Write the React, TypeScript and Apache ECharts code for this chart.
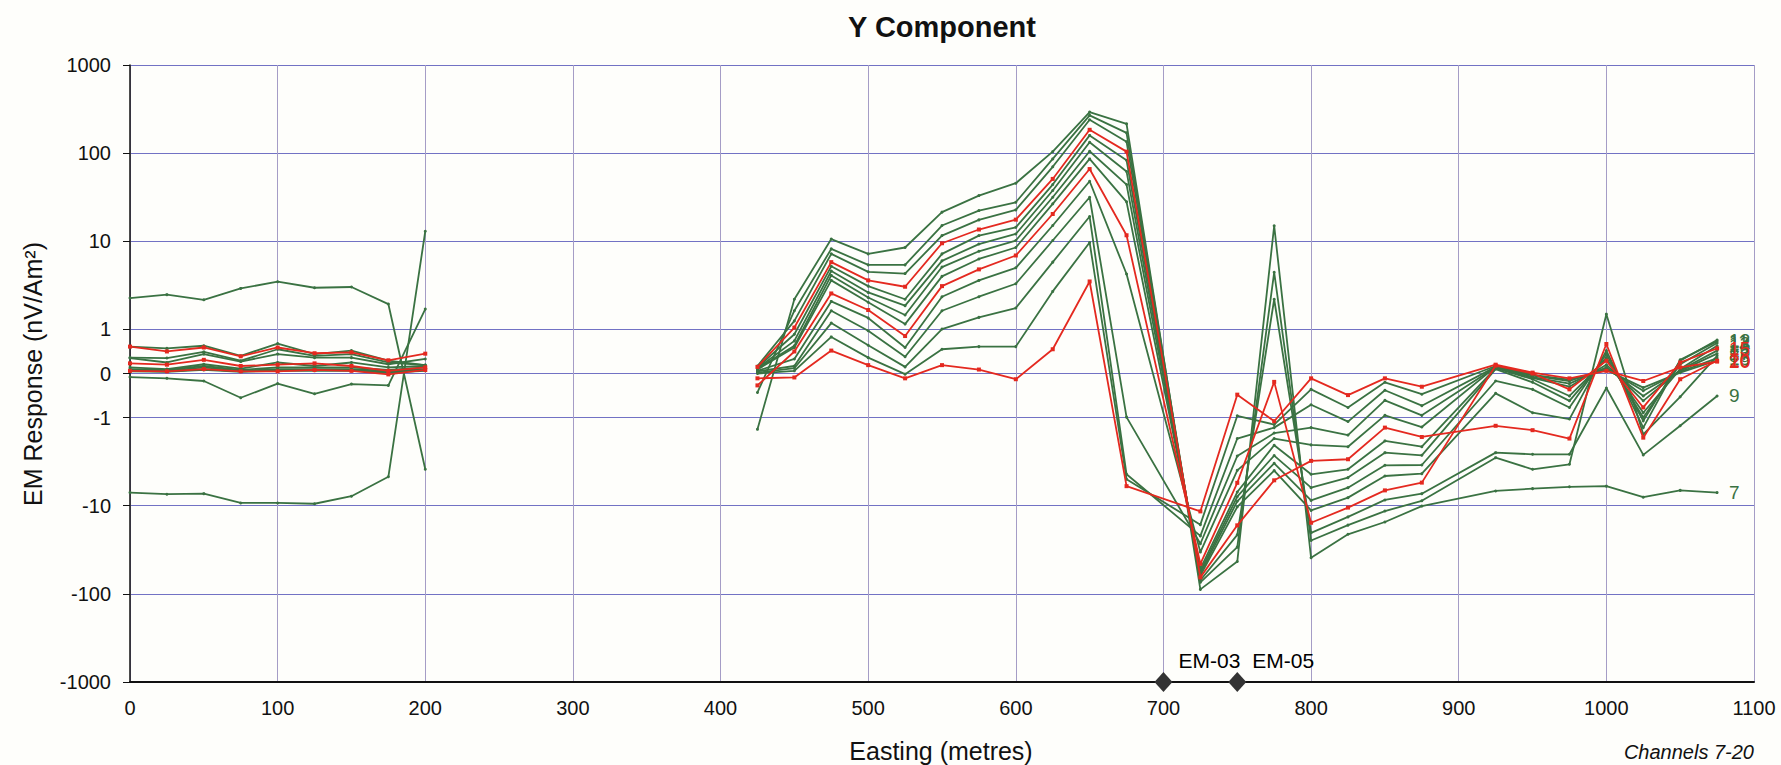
import React, { useEffect, useRef } from "react";
import * as echarts from "echarts";

// Station eastings (metres); the survey has no readings between 200 and 425 m,
// at 700 m or at 900 m.
const eastings = [
  0, 25, 50, 75, 100, 125, 150, 175, 200,
  425, 450, 475, 500, 525, 550, 575, 600, 625, 650, 675,
  725, 750, 775, 800, 825, 850, 875, 925, 950, 975, 1000, 1025, 1050, 1075,
];
const lineBreakAfter = 200;

// EM response per channel (nV/Am²)
const ch7 = [-7.1, -7.4, -7.3, -9.3, -9.3, -9.5, -7.8, -4.7, 13.0,
  -1.36, 2.2, 10.6, 7.2, 8.5, 21.4, 33, 45.6, 104, 292, 215,
  -89, -43, 15, -39, -21.1, -15.3, -10.1, -6.8, -6.4, -6.1, -6.0, -8.0, -6.7, -7.1];
const ch8 = [2.27, 2.48, 2.17, 2.92, 3.48, 2.97, 3.03, 1.94, -3.86,
  -0.43, 1.63, 8.2, 5.4, 5.4, 15.1, 22.3, 27.7, 86, 268, 170,
  -74, -29.5, 4.45, -24.8, -16.6, -11.5, -8.8, -2.85, -3.86, -3.39, 1.49, -1.55, -0.53, 0.4];
const ch9 = [-0.08, -0.11, -0.17, -0.55, -0.23, -0.46, -0.24, -0.27, 1.7,
  0.17, 1.25, 7.2, 4.5, 4.3, 11.6, 17.5, 22.7, 70, 239, 135,
  -70, -21.4, 2.2, -20.3, -13.4, -8.6, -7.3, -2.5, -2.61, -2.61, -0.33, -2.65, -1.24, -0.51];
const ch10 = [0.61, 0.5, 0.59, 0.39, 0.59, 0.46, 0.48, 0.3, 0.45,
  0.15, 1.05, 5.8, 3.6, 3.05, 9.5, 13.6, 17.6, 51, 184, 104,
  -65, -16.7, -5.15, -3.1, -2.97, -1.3, -1.66, -1.24, -1.39, -1.73, 0.67, -1.69, -0.13, 0.29];
const ch11 = [0.61, 0.57, 0.63, 0.4, 0.68, 0.44, 0.52, 0.29, 0.19,
  0.14, 0.89, 5.2, 3.1, 2.2, 7.2, 11.6, 14.4, 44, 159, 83,
  -62, -10.3, -4.0, -11.3, -8.1, -4.6, -4.33, -0.45, -0.89, -1.04, 0.52, -1.3, 0.31, 0.73];
const ch12 = [0.36, 0.35, 0.49, 0.29, 0.55, 0.4, 0.44, 0.25, 0.19,
  0.12, 0.74, 4.6, 2.63, 1.86, 6.0, 9.3, 12.1, 37.7, 133, 62,
  -59, -8.9, -3.3, -8.7, -6.24, -3.48, -3.45, -0.17, -0.36, -0.77, 0.44, -1.09, 0.29, 0.76];
const ch13 = [0.35, 0.25, 0.44, 0.27, 0.44, 0.36, 0.36, 0.21, 0.33,
  0.11, 0.63, 4.1, 2.3, 1.46, 5.1, 7.7, 10.2, 31.6, 105, 44,
  -56, -7.9, -2.7, -6.24, -4.8, -2.5, -2.68, 0.1, -0.2, -0.62, 0.36, -1.0, 0.21, 0.69];
const ch14 = [0.14, 0.1, 0.21, 0.11, 0.25, 0.17, 0.25, 0.14, 0.17,
  0.09, 0.59, 3.6, 2.03, 1.15, 4.0, 6.3, 8.5, 26.6, 86, 28,
  -52, -7.0, -2.06, -4.4, -3.86, -1.84, -2.14, 0.12, -0.13, -0.51, 0.32, -0.89, 0.1, 0.63];
const ch15 = [0.23, 0.2, 0.31, 0.17, 0.2, 0.23, 0.17, 0.06, 0.14,
  -0.27, 0.5, 2.56, 1.66, 0.85, 3.1, 4.8, 6.9, 20.4, 66, 11.7,
  -45.6, -5.5, -0.19, -15.6, -10.5, -6.7, -5.47, 0.18, 0.0, -0.36, 0.29, -0.77, 0.25, 0.57];
const ch16 = [0.1, 0.08, 0.17, 0.08, 0.14, 0.14, 0.14, 0.08, 0.14,
  0.06, 0.33, 2.08, 1.35, 0.59, 2.35, 3.6, 5.0, 15.1, 48, 4.25,
  -33.6, -3.97, -1.73, -2.04, -2.14, -0.95, -1.28, 0.15, -0.1, -0.3, 0.2, -0.62, 0.08, 0.52];
const ch17 = [0.08, 0.06, 0.14, 0.06, 0.1, 0.1, 0.1, 0.06, 0.1,
  0.05, 0.17, 1.63, 0.97, 0.38, 1.63, 2.35, 3.3, 10.2, 31.6, -0.99,
  -27, -2.73, -1.5, -1.3, -1.58, -0.61, -0.95, 0.14, -0.08, -0.23, 0.14, -0.51, 0.06, 0.45];
const ch18 = [0.06, 0.05, 0.1, 0.05, 0.08, 0.08, 0.08, 0.03, 0.08,
  0.02, 0.12, 1.18, 0.64, 0.15, 1.01, 1.37, 1.75, 5.8, 19.1, -4.4,
  -22, -1.73, -1.3, -0.71, -1.11, -0.38, -0.73, 0.15, -0.05, -0.17, 0.1, -0.39, 0.04, 0.35];
const ch19 = [0.05, 0.04, 0.08, 0.04, 0.06, 0.06, 0.06, 0.02, 0.06,
  0.0, 0.06, 0.83, 0.36, -0.015, 0.55, 0.61, 0.61, 2.7, 9.7, -5.0,
  -16.4, -0.96, -1.2, -0.36, -0.77, -0.2, -0.47, 0.17, -0.03, -0.14, 0.08, -0.32, 0.02, 0.3];
const ch20 = [0.06, 0.05, 0.1, 0.05, 0.05, 0.08, 0.06, -0.02, 0.08,
  -0.11, -0.09, 0.52, 0.19, -0.11, 0.19, 0.09, -0.13, 0.55, 3.5, -6.0,
  -11.6, -0.48, -1.1, -0.11, -0.49, -0.11, -0.3, 0.2, 0.02, -0.11, 0.06, -0.17, 0.14, 0.27];

const channels = [
  { name: "7", values: ch7, red: false },
  { name: "8", values: ch8, red: false },
  { name: "9", values: ch9, red: false },
  { name: "10", values: ch10, red: true },
  { name: "11", values: ch11, red: false },
  { name: "12", values: ch12, red: false },
  { name: "13", values: ch13, red: false },
  { name: "14", values: ch14, red: false },
  { name: "15", values: ch15, red: true },
  { name: "16", values: ch16, red: false },
  { name: "17", values: ch17, red: false },
  { name: "18", values: ch18, red: false },
  { name: "19", values: ch19, red: false },
  { name: "20", values: ch20, red: true },
];

// Y axis ticks (nV/Am²)
const yTickValues = [-1000, -100, -10, -1, 0, 1, 10, 100, 1000];
const yTickLabels = ["-1000", "-100", "-10", "-1", "0", "1", "10", "100", "1000"];

// Borehole collars on the line
const collarEastings = [700, 750];
const collarNames = ["EM-03", "EM-05"];

const GREEN = "#3a7242";
const RED = "#e4291f";
const FONT = "'Liberation Sans', Arial, sans-serif";

// Logarithmic above |1|, linear between -1 and 1
const toAxis = (v: number) =>
  Math.abs(v) >= 1 ? Math.sign(v) * (Math.log10(Math.abs(v)) + 0.5) : v * 0.5;

export default function App() {
  const ref = useRef<HTMLDivElement>(null);

  useEffect(() => {
    document.body.style.margin = "0";
    const chart = echarts.init(ref.current!, null, { renderer: "svg" });

    const yTicks = yTickValues.map(toAxis);

    const lineSeries = channels
      .map((c, i) => ({ c, i }))
      .sort((a, b) => Number(a.c.red) - Number(b.c.red))
      .map(({ c }) => {
        const data: any[] = [];
        eastings.forEach((x, k) => {
          data.push([x, toAxis(c.values[k])]);
          if (x === lineBreakAfter) data.push([x + 1, null]);
        });
        const color = c.red ? RED : GREEN;
        return {
          type: "line",
          name: c.name,
          data,
          connectNulls: false,
          z: c.red ? 4 : 3,
          symbol: c.red ? "rect" : "circle",
          symbolSize: c.red ? 4 : 3,
          showSymbol: true,
          lineStyle: { color, width: 1.8 },
          itemStyle: { color },
          silent: true,
          endLabel: {
            show: true,
            formatter: c.name,
            color,
            fontFamily: FONT,
            fontSize: 19,
            distance: 12,
          },
        };
      });

    const collarSeries = {
      type: "scatter",
      data: collarEastings.map((x, i) => ({ value: [x, toAxis(-1000)], name: collarNames[i] })),
      symbol: "diamond",
      symbolSize: [18, 20],
      itemStyle: { color: "#333333", opacity: 1 },
      clip: false,
      z: 6,
      silent: true,
      label: {
        show: true,
        formatter: (p: any) => p.name,
        position: [24, -12],
        align: "left",
        verticalAlign: "middle",
        color: "#000",
        opacity: 1,
        fontFamily: FONT,
        fontSize: 21,
      },
    };

    chart.setOption({
      animation: false,
      backgroundColor: "#fefefb",
      grid: { left: 130, right: 27, top: 65, bottom: 83, containLabel: false },
      xAxis: {
        type: "value",
        min: 0,
        max: 1100,
        interval: 100,
        axisLine: { show: true, onZero: false, lineStyle: { color: "#111", width: 2 } },
        axisTick: { show: false },
        axisLabel: {
          color: "#111",
          fontFamily: FONT,
          fontSize: 20,
          margin: 16,
          formatter: (v: number) => String(v),
        },
        splitLine: { show: true, lineStyle: { color: "#a59dc6", width: 1 } },
      },
      yAxis: {
        type: "value",
        min: toAxis(-1000),
        max: toAxis(1000),
        axisLine: { show: true, onZero: false, lineStyle: { color: "#111", width: 1.5 } },
        axisTick: { show: true, length: 7, customValues: yTicks, lineStyle: { color: "#111" } },
        axisLabel: {
          customValues: yTicks,
          color: "#111",
          fontFamily: FONT,
          fontSize: 20,
          margin: 19,
          formatter: (v: number) => {
            const k = yTicks.findIndex((t) => Math.abs(t - v) < 1e-6);
            return k >= 0 ? yTickLabels[k] : "";
          },
        },
        splitLine: { show: true, lineStyle: { color: "#7272c4", width: 1 } },
      },
      graphic: [
        {
          type: "text",
          x: 942,
          y: 27,
          style: {
            text: "Y Component",
            font: `bold 29px ${FONT}`,
            fill: "#111",
            textAlign: "center",
            textVerticalAlign: "middle",
          },
        },
        {
          type: "text",
          x: 941,
          y: 751,
          style: {
            text: "Easting (metres)",
            font: `25px ${FONT}`,
            fill: "#111",
            textAlign: "center",
            textVerticalAlign: "middle",
          },
        },
        {
          type: "text",
          x: 33,
          y: 374,
          rotation: Math.PI / 2,
          style: {
            text: "EM Response (nV/Am²)",
            font: `25px ${FONT}`,
            fill: "#111",
            textAlign: "center",
            textVerticalAlign: "middle",
          },
        },
        {
          type: "text",
          x: 1754,
          y: 752,
          style: {
            text: "Channels 7-20",
            font: `italic 20px ${FONT}`,
            fill: "#111",
            textAlign: "right",
            textVerticalAlign: "middle",
          },
        },
      ],
      series: [...lineSeries, collarSeries],
    });

    return () => chart.dispose();
  }, []);

  return <div ref={ref} style={{ width: 1781, height: 765 }} />;
}
